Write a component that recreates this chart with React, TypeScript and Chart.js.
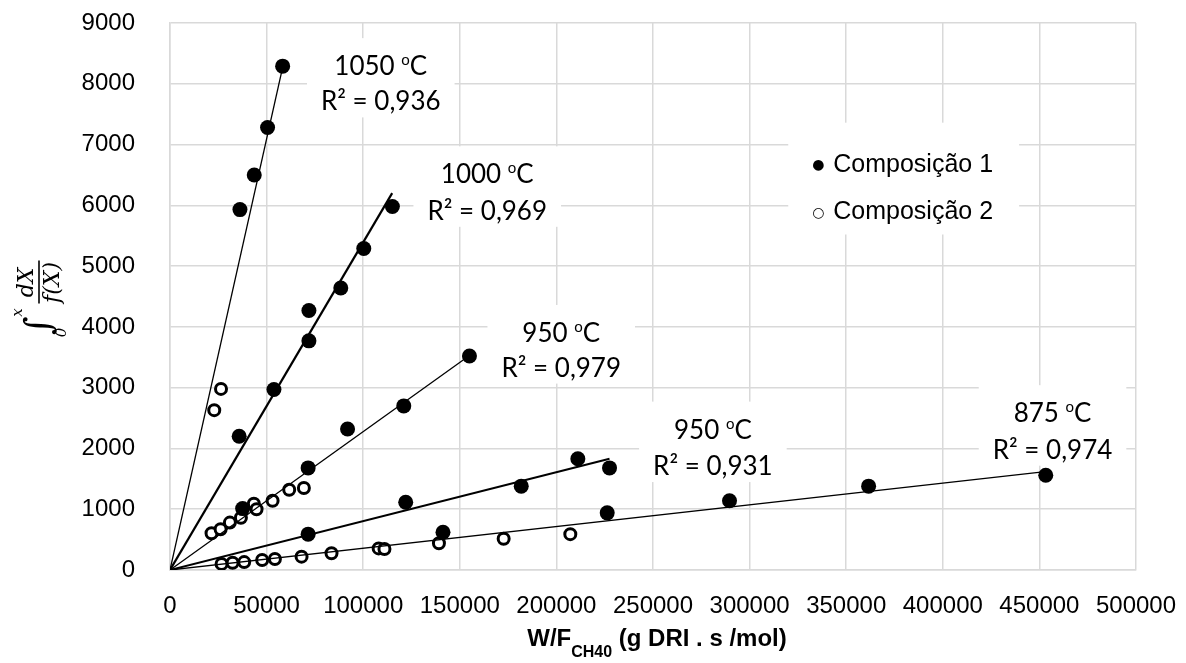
import React, { useEffect, useRef } from 'react';
import { Chart, registerables } from 'chart.js';

Chart.register(...registerables);

// ---------------- data ----------------
const comp1Label = 'Composição 1';
const comp2Label = 'Composição 2';

// Composição 1 (filled markers)
const comp1X = [
  36200, 43600, 50500, 58300,
  35800, 53800, 71900, 71900, 88400, 100300, 115100,
  37600, 71500, 91900, 121000, 155000,
  71500, 122000, 181800, 211100, 227500,
  141300, 226300, 289600, 361600, 453300,
];
const comp1Y = [
  5930, 6500, 7280, 8290,
  2200, 2970, 3770, 4270, 4640, 5290, 5980,
  1010, 1680, 2320, 2700, 3520,
  590, 1115, 1380, 1830, 1680,
  620, 940, 1140, 1380, 1560,
];

// Composição 2 (open markers)
const comp2X = [
  22900, 26400,
  21500, 26200, 31000, 36700, 43400, 44800, 53100, 61700, 69300,
  26700, 32400, 38400, 47700, 54300, 68100, 83600, 108000, 111000, 139200, 172700, 207200,
];
const comp2Y = [
  2630, 2980,
  605, 670, 780, 860, 1090, 1000, 1140, 1320, 1350,
  100, 120, 130, 165, 180, 220, 275, 355, 345, 440, 515, 590,
];

// linear trend lines through the origin
const trendEndX = [58500, 115000, 155000, 227500, 453000];
const trendEndY = [8300, 6200, 3530, 1830, 1620];

// trend labels
const labelTemps = ['1050', '1000', '950', '950', '875'];
const labelR2 = ['0,936', '0,969', '0,979', '0,931', '0,974'];
const labelX = [109100, 164200, 202500, 281000, 456800];
const labelY1 = [8290, 6510, 3900, 2310, 2580];
const labelY2 = [7710, 5910, 3330, 1710, 1980];

// axis ticks
const xTickValues = [0, 50000, 100000, 150000, 200000, 250000, 300000, 350000, 400000, 450000, 500000];
const yTickValues = [0, 1000, 2000, 3000, 4000, 5000, 6000, 7000, 8000, 9000];

// styles (kept apart from the data)
const trendWidths = [1.3, 2.2, 1.3, 2, 1.3];
const GRID = '#d9d9d9';

const toPoints = (xs: number[], ys: number[]) => xs.map((x, i) => ({ x, y: ys[i] }));

const annotationPlugin = {
  id: 'trendLabels',
  beforeDatasetsDraw(chart: any) {
    const { ctx } = chart;
    const xs = chart.scales.x;
    const ys = chart.scales.y;
    ctx.save();
    for (let i = 0; i < labelTemps.length; i++) {
      const cx = xs.getPixelForValue(labelX[i]);
      const y1 = ys.getPixelForValue(labelY1[i]);
      const y2 = ys.getPixelForValue(labelY2[i]);
      const big = '26px Lato';
      const small = '15px Lato';
      ctx.font = big;
      const tA = labelTemps[i] + ' ';
      const wA = ctx.measureText(tA).width;
      const wC = ctx.measureText('C').width;
      ctx.font = small;
      const wO = ctx.measureText('o').width;
      const w1 = wA + wO + wC;
      ctx.font = big;
      const t2 = 'R² = ' + labelR2[i];
      const w2 = ctx.measureText(t2).width;
      const bw = Math.max(w1, w2) + 28;
      ctx.fillStyle = '#fff';
      ctx.fillRect(cx - bw / 2, y1 - 28, bw, y2 - y1 + 44);
      ctx.fillStyle = '#000';
      ctx.textBaseline = 'alphabetic';
      ctx.textAlign = 'left';
      const base1 = y1 + 9;
      const x0 = cx - w1 / 2;
      ctx.font = big;
      ctx.fillText(tA, x0, base1);
      ctx.font = small;
      ctx.fillText('o', x0 + wA, base1 - 10);
      ctx.font = big;
      ctx.fillText('C', x0 + wA + wO, base1);
      ctx.textAlign = 'center';
      ctx.fillText(t2, cx, y2 + 9);
    }
    ctx.restore();
  },
};

const legendPlugin = {
  id: 'textLegend',
  beforeDatasetsDraw(chart: any) {
    const { ctx } = chart;
    const xs = chart.scales.x;
    const ys = chart.scales.y;
    const left = xs.getPixelForValue(320000);
    const right = xs.getPixelForValue(439500);
    const top = ys.getPixelForValue(7360);
    const bottom = ys.getPixelForValue(5520);
    ctx.save();
    ctx.fillStyle = '#fff';
    ctx.fillRect(left, top, right - left, bottom - top);
    const items = [
      { sym: '●', label: comp1Label },
      { sym: '○', label: comp2Label },
    ];
    const yc = [ys.getPixelForValue(6670), ys.getPixelForValue(5890)];
    items.forEach((it, i) => {
      ctx.fillStyle = '#000';
      ctx.textBaseline = 'middle';
      ctx.textAlign = 'center';
      ctx.font = '14px "DejaVu Sans"';
      ctx.fillText(it.sym, left + 30, yc[i] + 1);
      ctx.textAlign = 'left';
      ctx.font = '25px "Liberation Sans"';
      ctx.fillText(it.label, left + 45, yc[i]);
    });
    ctx.restore();
  },
};

const titlesPlugin = {
  id: 'axisTitles',
  afterDraw(chart: any) {
    const { ctx, chartArea } = chart;
    ctx.save();
    ctx.fillStyle = '#000';
    // ----- x title -----
    const mainF = 'bold 24px "Liberation Sans"';
    const subF = 'bold 16px "Liberation Sans"';
    const p1 = 'W/F';
    const p2 = 'CH40';
    const p3 = ' (g DRI . s /mol)';
    ctx.font = mainF;
    const w1 = ctx.measureText(p1).width;
    const w3 = ctx.measureText(p3).width;
    ctx.font = subF;
    const w2 = ctx.measureText(p2).width;
    const total = w1 + w2 + w3;
    const cx = (chartArea.left + chartArea.right) / 2 + 4;
    const x = cx - total / 2;
    const base = 646;
    ctx.textAlign = 'left';
    ctx.textBaseline = 'alphabetic';
    ctx.font = mainF;
    ctx.fillText(p1, x, base);
    ctx.font = subF;
    ctx.fillText(p2, x + w1, base + 11);
    ctx.font = mainF;
    ctx.fillText(p3, x + w1 + w2, base);

    // ----- y title: integral expression -----
    const oy = (chartArea.top + chartArea.bottom) / 2 + 4;
    ctx.translate(39, oy);
    ctx.rotate(-Math.PI / 2);
    ctx.textAlign = 'center';
    ctx.textBaseline = 'middle';
    ctx.font = '36px "DejaVu Serif"';
    ctx.fillText('∫', -25, 2);
    ctx.font = 'italic 15px "DejaVu Serif"';
    ctx.fillText('x', -12, -21);
    ctx.fillText('0', -32, 23);
    ctx.strokeStyle = '#000';
    ctx.lineWidth = 1.6;
    ctx.beginPath();
    ctx.moveTo(-3, 0);
    ctx.lineTo(40, 0);
    ctx.stroke();
    ctx.textBaseline = 'alphabetic';
    ctx.font = 'italic 22px "DejaVu Serif"';
    ctx.fillText('dX', 18, -6);
    ctx.fillText('f(X)', 18, 20);
    ctx.restore();
  },
};

export default function App() {
  const ref = useRef<HTMLCanvasElement | null>(null);
  useEffect(() => {
    if (!ref.current) return;
    const trendSets = trendEndX.map((ex, i) => ({
      label: 'trend' + i,
      data: [{ x: 0, y: 0 }, { x: ex, y: trendEndY[i] }],
      showLine: true,
      borderColor: '#000',
      borderWidth: trendWidths[i],
      pointRadius: 0,
      order: 0,
    }));
    const chart = new Chart(ref.current, {
      type: 'scatter',
      data: {
        datasets: [
          {
            label: comp1Label,
            data: toPoints(comp1X, comp1Y),
            pointRadius: 7.5,
            pointBackgroundColor: '#000',
            pointBorderColor: '#000',
            pointBorderWidth: 0,
            order: 1,
          },
          {
            label: comp2Label,
            data: toPoints(comp2X, comp2Y),
            pointRadius: 5.5,
            pointBackgroundColor: '#fff',
            pointBorderColor: '#000',
            pointBorderWidth: 3,
            order: 1,
          },
          ...trendSets,
        ] as any,
      },
      options: {
        responsive: false,
        animation: false,
        devicePixelRatio: 1,
        layout: { padding: { top: 23, right: 50, left: 0, bottom: 0 } },
        plugins: {
          legend: { display: false },
          tooltip: { enabled: false },
          title: { display: false },
        },
        scales: {
          x: {
            type: 'linear',
            min: 0,
            max: 500000,
            afterBuildTicks: (s: any) => {
              s.ticks = xTickValues.map((v) => ({ value: v }));
            },
            afterFit: (s: any) => {
              s.height = 93;
            },
            grid: { color: GRID, lineWidth: 1.5, drawTicks: true, tickLength: 22, tickColor: 'rgba(0,0,0,0)' },
            border: { display: true, color: GRID, width: 1.5 },
            ticks: {
              padding: 0,
              color: '#000',
              font: { family: '"Liberation Sans"', size: 24 },
              maxRotation: 0,
              autoSkip: false,
              callback: (v: any) => String(v),
            },
          },
          y: {
            type: 'linear',
            min: 0,
            max: 9000,
            afterBuildTicks: (s: any) => {
              s.ticks = yTickValues.map((v) => ({ value: v }));
            },
            afterFit: (s: any) => {
              s.width = 170;
            },
            grid: { color: GRID, lineWidth: 1.5, drawTicks: true, tickLength: 35, tickColor: 'rgba(0,0,0,0)' },
            border: { display: true, color: GRID, width: 1.5 },
            ticks: {
              padding: 0,
              color: '#000',
              font: { family: '"Liberation Sans"', size: 24 },
              autoSkip: false,
              callback: (v: any) => String(v),
            },
          },
        },
      } as any,
      plugins: [annotationPlugin, legendPlugin, titlesPlugin],
    });
    return () => chart.destroy();
  }, []);
  return (
    <div style={{ position: 'fixed', left: 0, top: 0, width: 1186, height: 663, background: '#fff' }}>
      <canvas ref={ref} width={1186} height={663} style={{ width: 1186, height: 663, display: 'block' }} />
    </div>
  );
}
